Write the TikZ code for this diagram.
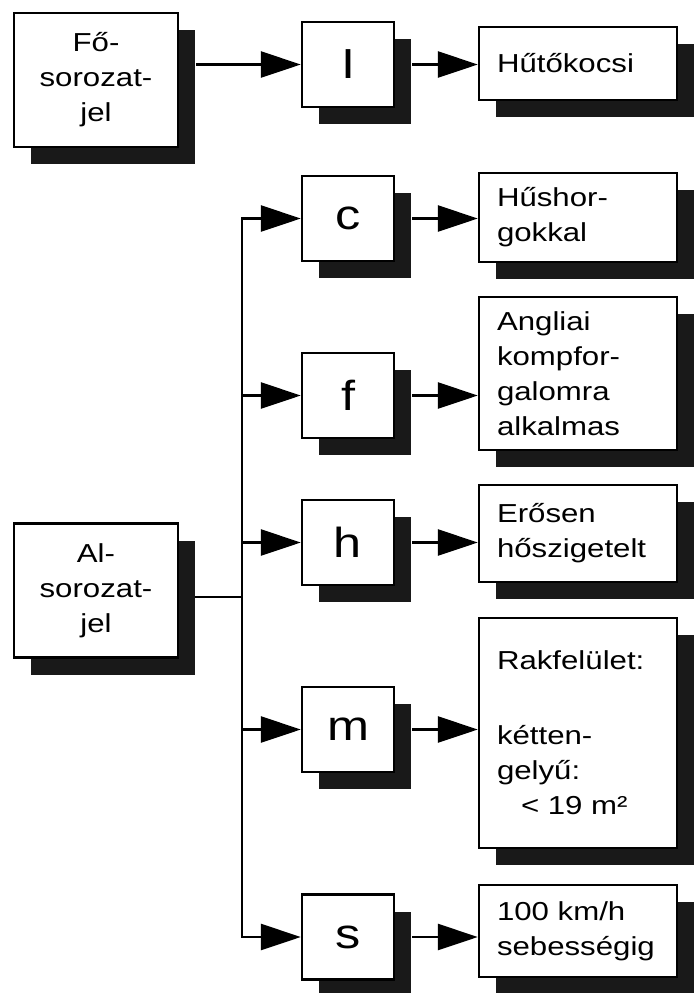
\documentclass[tikz,border=0pt]{standalone}
\usepackage{fontspec}
\setmainfont{Liberation Sans}
\newfontfamily\boxfont[FakeStretch=1.2]{Liberation Sans}
\usetikzlibrary{arrows.meta, shadows}

\begin{document}
\begin{tikzpicture}[x=0.5pt, y=-0.5pt,
  box/.style={rectangle, draw, line width=1.2pt, fill=white, inner sep=0pt,
    drop shadow={shadow xshift=8.5pt, shadow yshift=-8.5pt, fill=black!90, opacity=1}},
  sbox/.style={box, minimum width=82pt, minimum height=67pt, align=center, font=\boxfont\fontsize{13}{17.5}\selectfont},
  kbox/.style={box, minimum width=46pt, minimum height=42.5pt, font=\boxfont\fontsize{21}{24}\selectfont},
  tbox/.style={box, text width=81pt, inner xsep=9pt, align=left, font=\boxfont\fontsize{13}{17.5}\selectfont},
  arr/.style={-{Triangle[length=20pt, width=13pt]}, line width=1.3pt},
  line/.style={line width=1.3pt, line cap=rect}]
  \useasboundingbox (0,0) rectangle (693,993);

  % main series
  \node[sbox] (fo) at (96,80) {Fő-\\sorozat-\\jel};
  \node[kbox] (I) at (348,64.5) {I};
  \node[tbox, minimum height=36.5pt] (hk) at (578,63.5) {Hűtőkocsi};

  % sub series
  \node[sbox] (al) at (96,590.5) {Al-\\sorozat-\\jel};
  \node[kbox] (c) at (348,218.5) {c};
  \node[kbox] (f) at (348,395.5) {f};
  \node[kbox] (h) at (348,542.5) {h};
  \node[kbox] (m) at (348,729.5) {m};
  \node[kbox] (s) at (348,937) {s};

  \node[tbox, minimum height=44.5pt] (hh) at (578,217.5) {Hűshor-\\gokkal};
  \node[tbox, minimum height=76.5pt] (ak) at (578,373.5) {Angliai\\kompfor-\\galomra\\alkalmas};
  \node[tbox, minimum height=48.5pt] (eh) at (578,533.5) {Erősen\\hőszigetelt};
  \node[tbox, minimum height=115pt] (rf) at (578,733) {Rakfelület:\\[20pt]kétten-\\gelyű:\\\hspace*{12pt}< 19 m²};
  \node[tbox, minimum height=46pt] (sb) at (578,931) {100 km/h\\sebességig};

  \coordinate (sp) at (242,0);
  \coordinate (aj) at (242,597);

  \draw[arr] (I.west -| fo.east) ++(8.5pt,0) -- (I.west);
  \draw[line] (al.east |- aj) ++(8.5pt,0) -- (aj);
  \draw[line] (sp |- c.west) -- (sp |- s.west);
  \foreach \k in {c,f,h,m,s}
    \draw[arr] (sp |- \k.west) -- (\k.west);

  \draw[arr] (I.east) ++(8.5pt,0) -- (I.east -| hk.west);
  \draw[arr] (c.east) ++(8.5pt,0) -- (c.east -| hh.west);
  \draw[arr] (f.east) ++(8.5pt,0) -- (f.east -| ak.west);
  \draw[arr] (h.east) ++(8.5pt,0) -- (h.east -| eh.west);
  \draw[arr] (m.east) ++(8.5pt,0) -- (m.east -| rf.west);
  \draw[arr] (s.east) ++(8.5pt,0) -- (s.east -| sb.west);
\end{tikzpicture}
\end{document}
